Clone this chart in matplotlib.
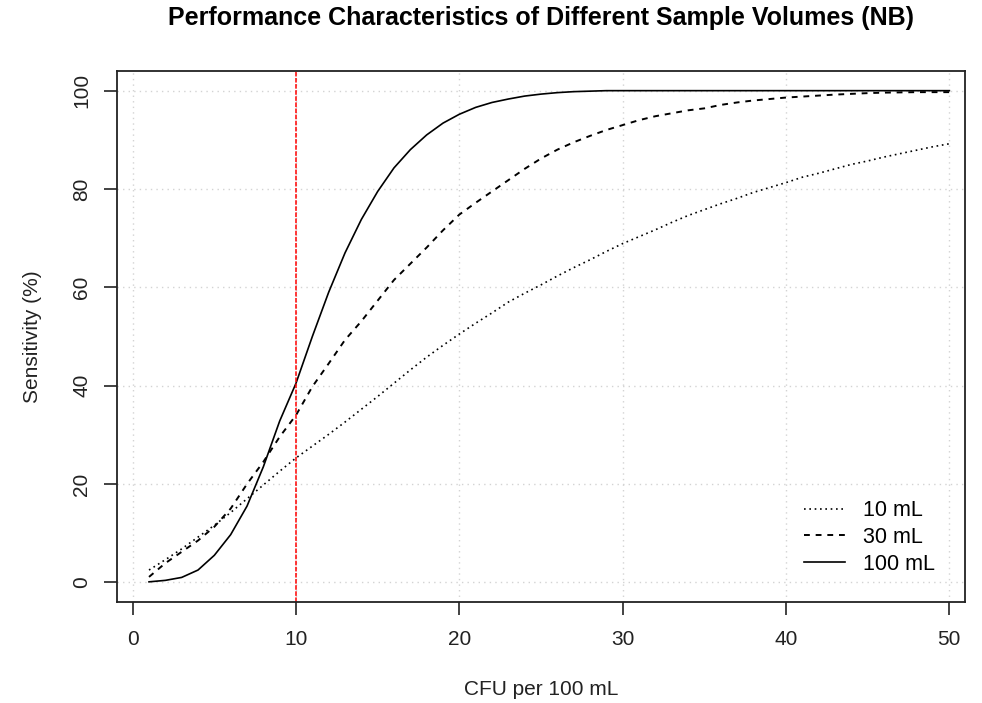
import numpy as np
import matplotlib
matplotlib.use("Agg")
import matplotlib.pyplot as plt

plt.rcParams['font.family'] = ['Liberation Sans', 'DejaVu Sans']

# CFU per 100 mL
cfu = list(range(1, 51))

# sensitivity (%)
sens_10 = [2.5, 4.6, 6.8, 9.2, 11.6, 14.2, 17.0, 19.8, 22.6, 25.3,
           27.7, 30.1, 32.6, 35.2, 37.8, 40.5, 43.2, 45.8, 48.2, 50.5,
           52.7, 54.8, 57.0, 58.8, 60.5, 62.3, 64.0, 65.6, 67.3, 68.9,
           70.3, 71.7, 73.2, 74.6, 75.8, 77.0, 78.1, 79.3, 80.3, 81.3,
           82.4, 83.2, 84.1, 85.0, 85.7, 86.5, 87.2, 87.9, 88.6, 89.2]
sens_30 = [1.1, 3.9, 6.2, 8.5, 11.3, 15.0, 20.0, 24.5, 29.6, 34.0,
           39.8, 44.5, 49.3, 53.1, 57.3, 61.5, 64.8, 68.1, 71.6, 74.8,
           77.2, 79.5, 81.8, 84.1, 86.2, 88.0, 89.5, 90.8, 92.0, 93.0,
           94.0, 94.8, 95.4, 96.0, 96.4, 97.1, 97.6, 98.0, 98.3, 98.6,
           98.8, 99.0, 99.2, 99.35, 99.5, 99.6, 99.65, 99.7, 99.7, 99.7]
sens_100 = [0.1, 0.4, 1.0, 2.5, 5.5, 9.7, 15.5, 23.5, 32.8, 40.5,
            50.0, 59.0, 67.0, 73.8, 79.5, 84.3, 88.0, 91.0, 93.4, 95.2,
            96.6, 97.6, 98.3, 98.9, 99.3, 99.6, 99.8, 99.9, 100, 100,
            100, 100, 100, 100, 100, 100, 100, 100, 100, 100,
            100, 100, 100, 100, 100, 100, 100, 100, 100, 100]
labels = ['10 mL', '30 mL', '100 mL']
threshold = 10

fig = plt.figure(figsize=(9.82, 7.03), dpi=100)
ax = fig.add_axes([117/982, 1-602/703, 848/982, 531/703])

ax.grid(True, color='#D3D3D3', linestyle=(0, (1, 3)), linewidth=1.0)
ax.set_axisbelow(True)

ax.plot(cfu, sens_10, color='black', linewidth=1.2, linestyle=(0, (1, 2.2)), label=labels[0])
ax.plot(cfu, sens_30, color='black', linewidth=1.4, linestyle=(0, (3, 3)), label=labels[1])
ax.plot(cfu, sens_100, color='black', linewidth=1.2, linestyle='-', label=labels[2])
ax.axvline(threshold, color='red', linewidth=1.1, linestyle=(0, (3, 1)))

ax.set_xlim(-0.96, 50.96)
ax.set_ylim(-4, 104)
ax.set_xticks([0, 10, 20, 30, 40, 50])
ax.set_yticks([0, 20, 40, 60, 80, 100])

for s in ax.spines.values():
    s.set_linewidth(1.3)
    s.set_color('#222222')
ax.tick_params(axis='both', length=9.5, width=1.2, color='#222222', labelsize=15, labelcolor='#222222')
ax.tick_params(axis='x', pad=11)
ax.tick_params(axis='y', pad=9, labelrotation=90)
for lab in ax.get_yticklabels():
    lab.set_va('center')

ax.set_xlabel('CFU per 100 mL', fontsize=15, color='#222222', labelpad=22)
ax.set_ylabel('Sensitivity (%)', fontsize=15, color='#222222', labelpad=22)
ax.set_title('Performance Characteristics of Different Sample Volumes (NB)',
             fontsize=18, fontweight='bold', pad=33)

ax.legend(loc='lower right', bbox_to_anchor=(0.988, 0.015), frameon=False, fontsize=15.5,
          handlelength=1.9, handletextpad=0.85, labelspacing=0.27)

plt.savefig('out.png', dpi=100)
